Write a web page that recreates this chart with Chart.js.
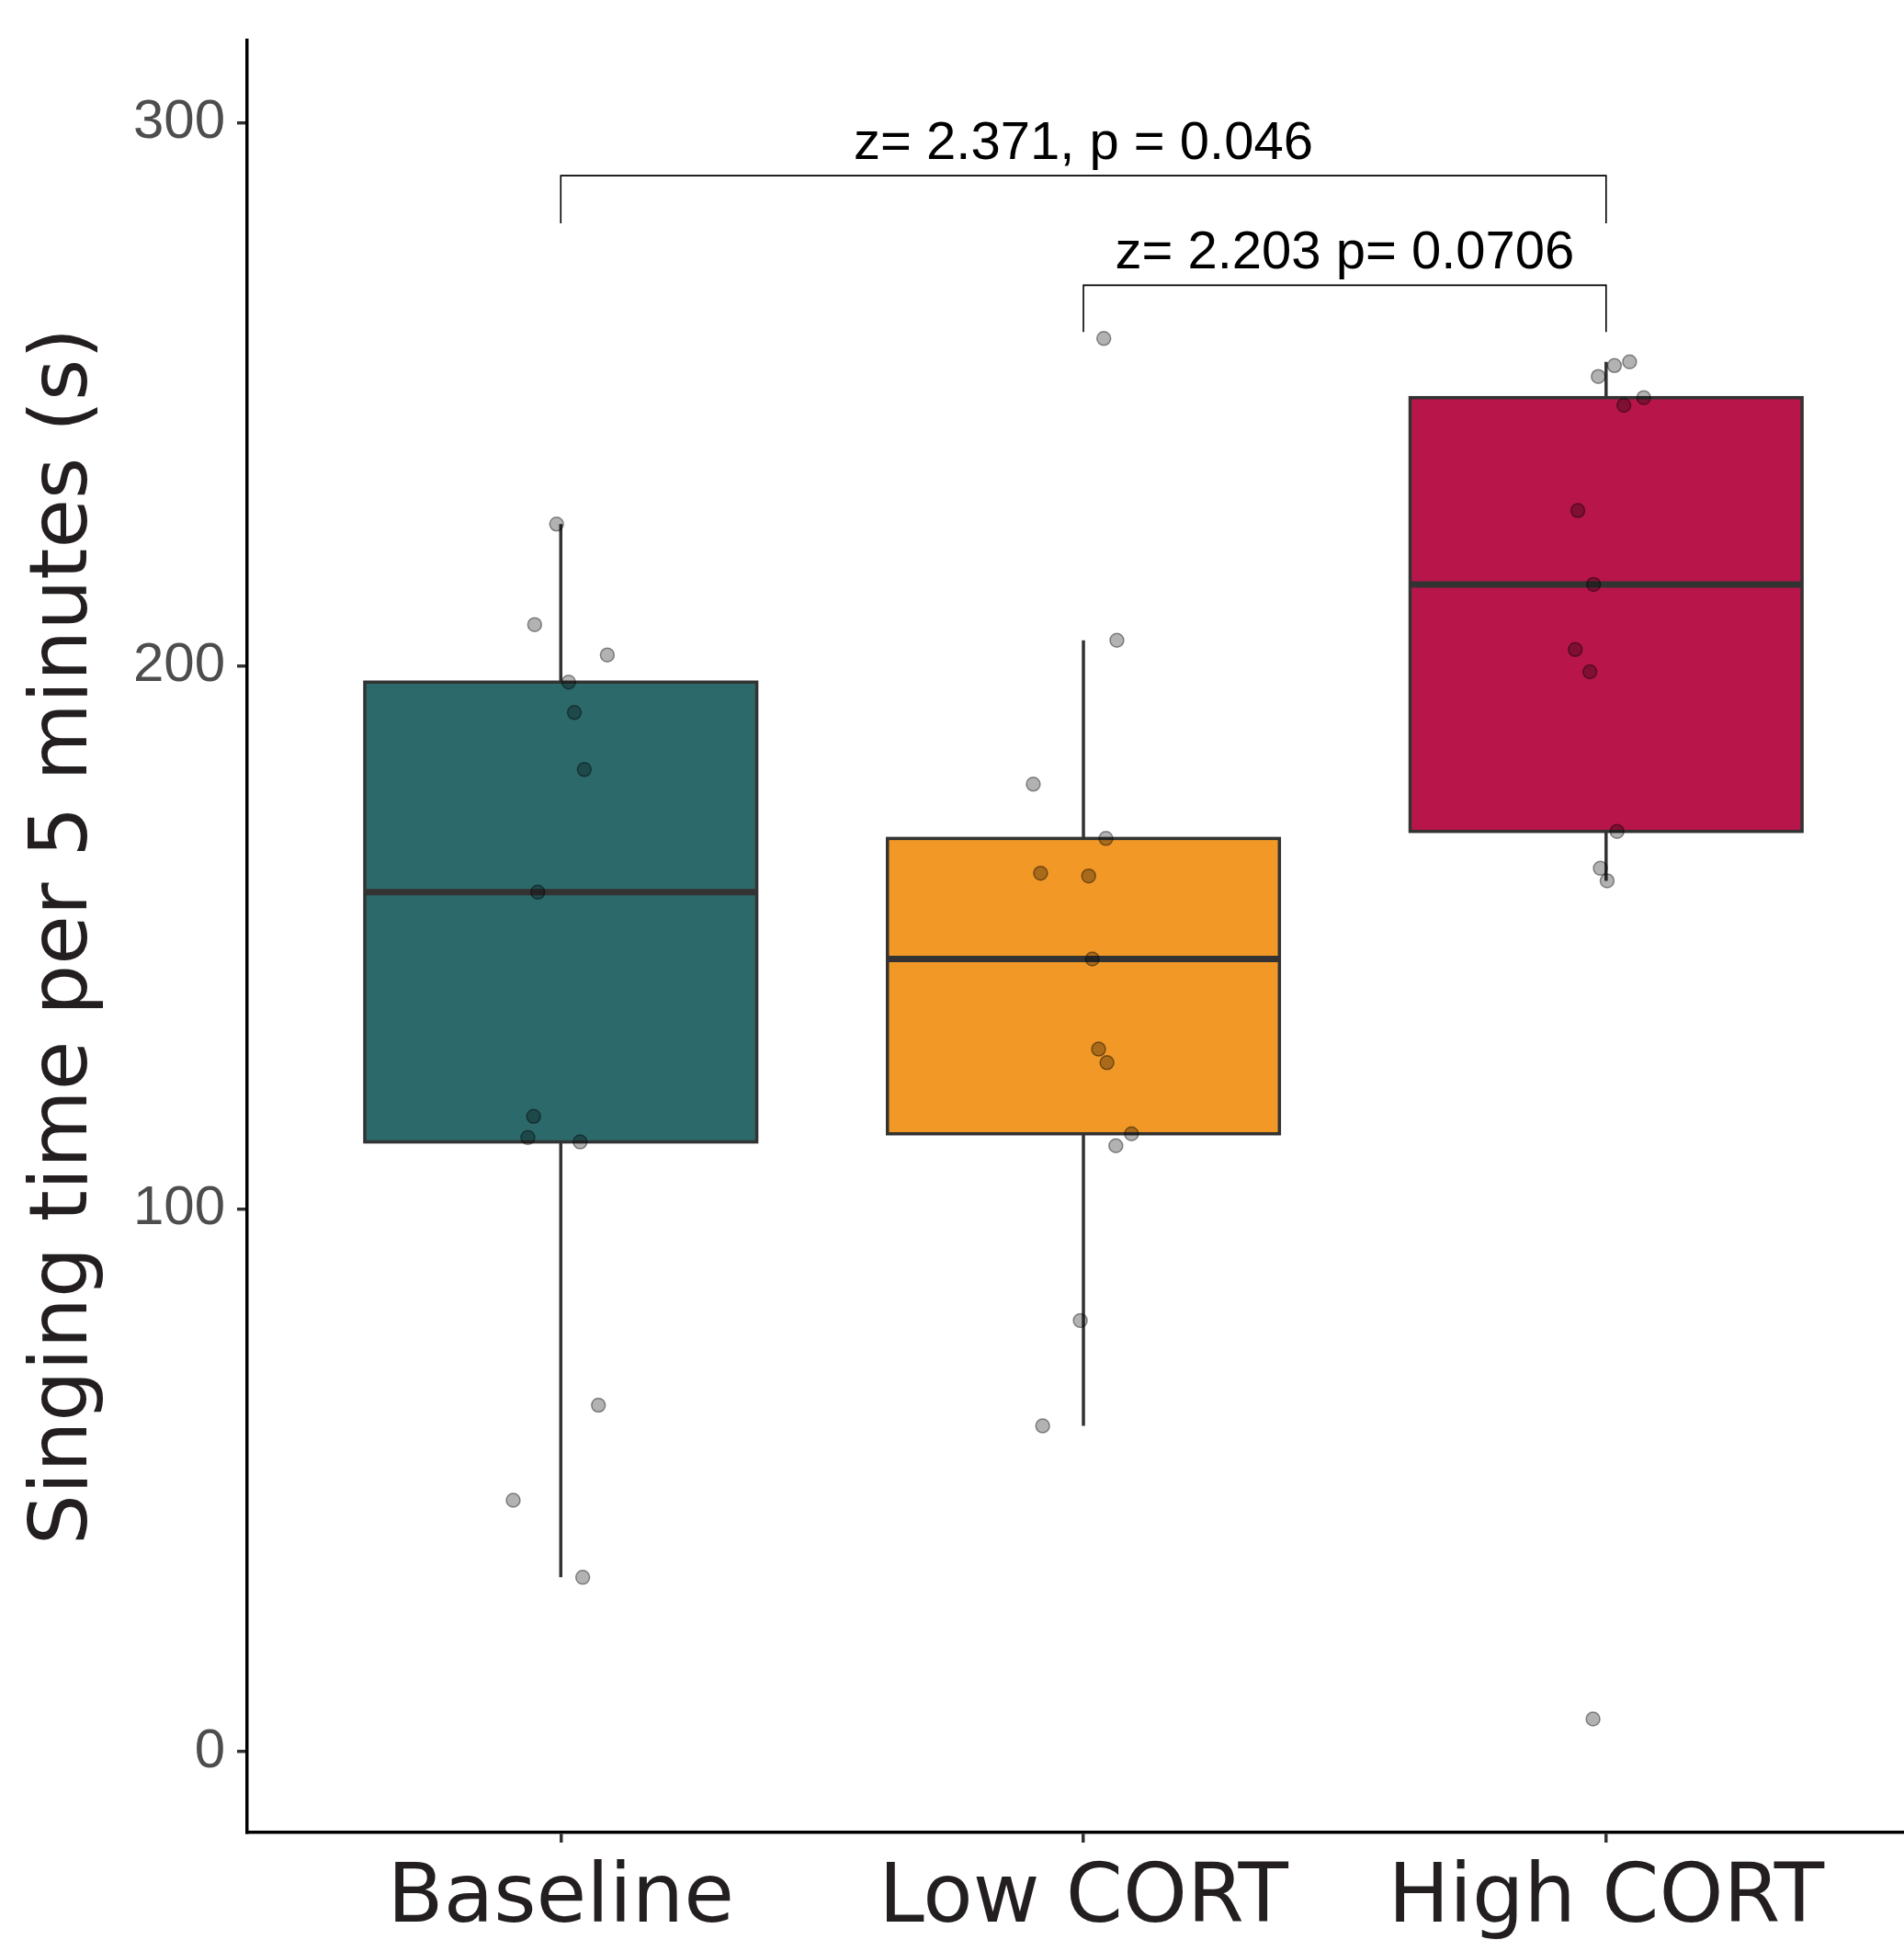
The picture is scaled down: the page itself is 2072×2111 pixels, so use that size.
<!DOCTYPE html>
<html>
<head>
<meta charset="utf-8">
<script src="https://cdn.jsdelivr.net/npm/chart.js@4.4.1/dist/chart.umd.min.js"></script>
<style>
  html, body { margin: 0; padding: 0; background: #ffffff; overflow: hidden; }
  #wrap { width: 2072px; height: 2111px; }
</style>
</head>
<body>
<div id="wrap"><canvas id="c" width="2072" height="2111"></canvas></div>
<script>
// ---- data ----
const categories = ['Baseline', 'Low CORT', 'High CORT'];
const baselineValues = [226.1, 207.6, 202.0, 197.0, 191.4, 180.9, 158.3, 117.0, 113.1, 112.3, 63.8, 46.3, 32.1];
const baselineJitter = [-0.008, -0.05, 0.089, 0.015, 0.026, 0.045, -0.044, -0.052, -0.063, 0.037, 0.072, -0.091, 0.042];
const lowCortValues = [260.3, 204.7, 178.2, 168.2, 161.8, 161.3, 146.0, 129.4, 126.9, 113.8, 111.6, 79.4, 60.0];
const lowCortJitter = [0.039, 0.064, -0.096, 0.043, -0.082, 0.01, 0.017, 0.029, 0.045, 0.092, 0.062, -0.006, -0.078];
const highCortValues = [256.0, 255.3, 253.3, 249.4, 248.0, 228.6, 215.0, 203.0, 198.9, 169.5, 162.7, 160.4, 6.0];
const highCortJitter = [0.045, 0.016, -0.015, 0.072, 0.034, -0.054, -0.024, -0.059, -0.031, 0.021, -0.011, 0.002, -0.025];
const boxColors = ['#2C696A', '#F29826', '#B8164B'];
const yTickValues = [0, 100, 200, 300];
const yAxisTitle = 'Singing time per 5 minutes (s)';

// pairwise comparison annotations
const compLabels = ['z= 2.371, p = 0.046', 'z= 2.203 p= 0.0706'];
const compFrom = [1, 2];
const compTo = [3, 3];
const compBarY = [290.3, 270.1];
const compTipY = [281.5, 261.5];
const compLabelY = [293.4, 273.2];

// ---- helpers ----
const groups = [
  { values: baselineValues, jitter: baselineJitter },
  { values: lowCortValues, jitter: lowCortJitter },
  { values: highCortValues, jitter: highCortJitter }
];

function quantile(sorted, p) {
  const h = (sorted.length - 1) * p;
  const lo = Math.floor(h), hi = Math.ceil(h);
  return sorted[lo] + (sorted[hi] - sorted[lo]) * (h - lo);
}
function boxStats(values) {
  const s = values.slice().sort((a, b) => a - b);
  const q1 = quantile(s, 0.25), med = quantile(s, 0.5), q3 = quantile(s, 0.75);
  const iqr = q3 - q1;
  const lowFence = q1 - 1.5 * iqr, highFence = q3 + 1.5 * iqr;
  const inside = s.filter(v => v >= lowFence && v <= highFence);
  return { q1, med, q3, lo: inside[0], hi: inside[inside.length - 1] };
}

const boxHalfWidth = 0.375;

const boxPlugin = {
  id: 'boxes',
  beforeDatasetsDraw(chart) {
    const ctx = chart.ctx, xs = chart.scales.x, ys = chart.scales.y;
    groups.forEach((g, i) => {
      const st = boxStats(g.values);
      const cx = xs.getPixelForValue(i + 1);
      const xl = xs.getPixelForValue(i + 1 - boxHalfWidth);
      const xr = xs.getPixelForValue(i + 1 + boxHalfWidth);
      const yq1 = ys.getPixelForValue(st.q1), yq3 = ys.getPixelForValue(st.q3);
      const ymed = ys.getPixelForValue(st.med);
      const ylo = ys.getPixelForValue(st.lo), yhi = ys.getPixelForValue(st.hi);
      ctx.save();
      ctx.strokeStyle = '#333333';
      ctx.lineWidth = 3.5;
      ctx.lineCap = 'butt';
      // whiskers
      ctx.beginPath();
      ctx.moveTo(cx, yq3); ctx.lineTo(cx, yhi);
      ctx.moveTo(cx, yq1); ctx.lineTo(cx, ylo);
      ctx.stroke();
      // box
      ctx.fillStyle = boxColors[i];
      ctx.fillRect(xl, yq3, xr - xl, yq1 - yq3);
      ctx.strokeRect(xl, yq3, xr - xl, yq1 - yq3);
      // median
      ctx.lineWidth = 7;
      ctx.beginPath();
      ctx.moveTo(xl, ymed); ctx.lineTo(xr, ymed);
      ctx.stroke();
      ctx.restore();
    });
  }
};

const labelPlugin = {
  id: 'compLabels',
  afterDatasetsDraw(chart) {
    const ctx = chart.ctx, xs = chart.scales.x, ys = chart.scales.y;
    ctx.save();
    ctx.fillStyle = '#000000';
    ctx.font = '58px "Liberation Sans", Arial, sans-serif';
    ctx.textAlign = 'center';
    ctx.textBaseline = 'alphabetic';
    compLabels.forEach((t, i) => {
      const x = (xs.getPixelForValue(compFrom[i]) + xs.getPixelForValue(compTo[i])) / 2;
      ctx.fillText(t, x, ys.getPixelForValue(compLabelY[i]));
    });
    ctx.restore();
  }
};

const datasets = [];
groups.forEach((g, i) => {
  datasets.push({
    label: categories[i],
    data: g.values.map((v, k) => ({ x: i + 1 + g.jitter[k], y: v })),
    backgroundColor: 'rgba(0,0,0,0.3)',
    borderColor: 'rgba(0,0,0,0.42)',
    borderWidth: 1.5,
    pointRadius: 7.5,
    pointHoverRadius: 7.5,
    showLine: false
  });
});
compLabels.forEach((t, i) => {
  datasets.push({
    label: t,
    data: [
      { x: compFrom[i], y: compTipY[i] },
      { x: compFrom[i], y: compBarY[i] },
      { x: compTo[i], y: compBarY[i] },
      { x: compTo[i], y: compTipY[i] }
    ],
    showLine: true,
    borderColor: '#000000',
    borderWidth: 1.6,
    pointRadius: 0,
    fill: false,
    tension: 0
  });
});

new Chart(document.getElementById('c'), {
  type: 'scatter',
  data: { datasets },
  options: {
    responsive: false,
    animation: false,
    devicePixelRatio: 1,
    clip: false,
    layout: { autoPadding: false, padding: { top: 44, right: 0, bottom: 0, left: 0 } },
    plugins: { legend: { display: false }, tooltip: { enabled: false } },
    scales: {
      x: {
        type: 'linear',
        min: 0.4,
        max: 3.57,
        afterBuildTicks: (s) => { s.ticks = categories.map((c, i) => ({ value: i + 1 })); },
        afterFit: (s) => { s.height = 117; s.paddingLeft = 0; s.paddingRight = 0; },
        ticks: {
          callback: (v) => categories[Math.round(v) - 1],
          font: { family: '"DejaVu Sans", sans-serif', size: 89 },
          color: '#231f20',
          padding: 9,
          maxRotation: 0,
          autoSkip: false
        },
        grid: { drawOnChartArea: false, drawTicks: true, tickLength: 11, tickWidth: 3.5, tickColor: '#333333', lineWidth: 3.5, color: '#333333' },
        border: { display: true, color: '#000000', width: 3.5 }
      },
      y: {
        type: 'linear',
        min: -14.9,
        max: 315.2,
        afterBuildTicks: (s) => { s.ticks = yTickValues.map(v => ({ value: v })); },
        afterFit: (s) => { s.width = 269; s.paddingTop = 0; s.paddingBottom = 0; },
        ticks: {
          font: { family: '"Liberation Sans", Arial, sans-serif', size: 60 },
          color: '#4D4D4D',
          padding: 13
        },
        title: {
          display: true,
          text: yAxisTitle,
          font: { family: '"DejaVu Sans", sans-serif', size: 87 },
          color: '#231f20',
          padding: { top: 19, bottom: 0 }
        },
        grid: { drawOnChartArea: false, drawTicks: true, tickLength: 11, tickWidth: 3.5, tickColor: '#333333', lineWidth: 3.5, color: '#333333' },
        border: { display: true, color: '#000000', width: 3.5 }
      }
    }
  },
  plugins: [boxPlugin, labelPlugin]
});
</script>
</body>
</html>
